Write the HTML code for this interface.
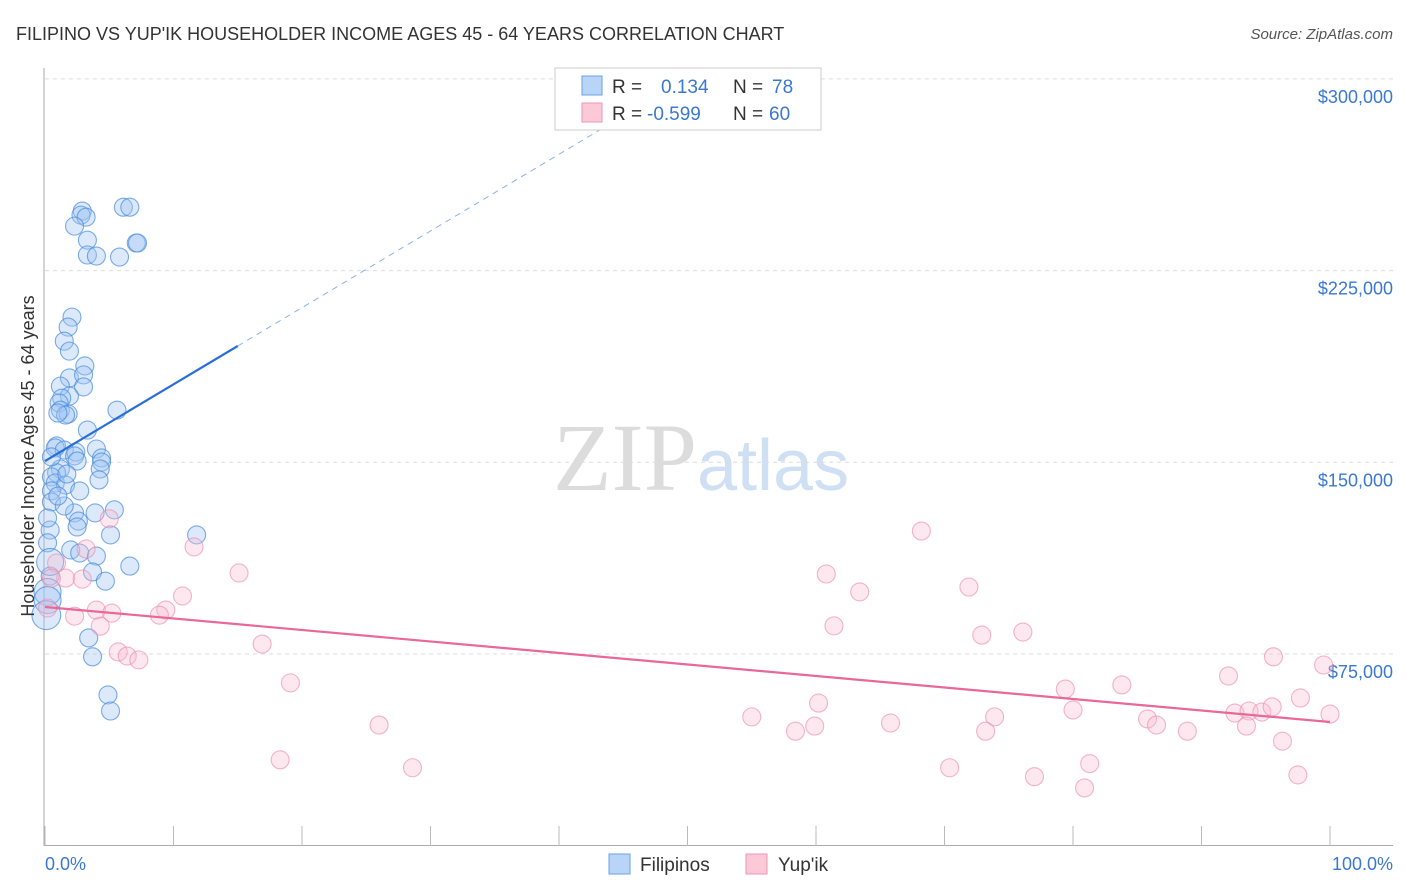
<!DOCTYPE html>
<html><head><meta charset="utf-8"><style>
body{margin:0;background:#fff;font-family:"Liberation Sans",sans-serif;}
svg{display:block}
</style></head><body>
<svg width="1406" height="892" id="chart">
<text x="16" y="40" font-size="18" fill="#333">FILIPINO VS YUP'IK HOUSEHOLDER INCOME AGES 45 - 64 YEARS CORRELATION CHART</text>
<text x="1393" y="39" font-size="15" fill="#555" text-anchor="end" font-style="italic">Source: ZipAtlas.com</text>
<text x="553" y="490" font-size="96" fill="#dcdcdc" font-family="Liberation Serif,serif">ZIP<tspan fill="#cfdff4" font-family="Liberation Sans,sans-serif" font-size="72">atlas</tspan></text>
<g id="grid"></g>
<g id="marks"></g>
<text transform="translate(34,456) rotate(-90)" font-size="18" fill="#333" text-anchor="middle">Householder Income Ages 45 - 64 years</text>
<text x="45" y="870" font-size="18" fill="#3a78d4">0.0%</text>
<text x="1393" y="870" font-size="18" fill="#3a78d4" text-anchor="end">100.0%</text>
<g>
<rect x="555" y="68" width="266" height="62" fill="#fff" stroke="#ccc"/>
<rect x="582" y="76" width="20" height="19" fill="#b8d4f6" stroke="#6aa2e4"/>
<rect x="582" y="103" width="20" height="19" fill="#fbc9d8" stroke="#ee95b3"/>
<text x="612" y="93" font-size="19" fill="#333">R = <tspan x="661" fill="#3a78d4">0.134</tspan><tspan x="733">N = </tspan><tspan x="772" fill="#3a78d4">78</tspan></text>
<text x="612" y="120" font-size="19" fill="#333">R = <tspan x="647" fill="#3a78d4">-0.599</tspan><tspan x="733">N = </tspan><tspan x="769" fill="#3a78d4">60</tspan></text>
</g>
<g>
<rect x="609" y="854" width="21" height="20" fill="#b8d4f6" stroke="#6aa2e4"/>
<text x="640" y="871" font-size="19" fill="#333">Filipinos</text>
<rect x="746" y="854" width="21" height="20" fill="#fbc9d8" stroke="#ee95b3"/>
<text x="778" y="871" font-size="19" fill="#333">Yup'ik</text>
</g>
</svg>
<script>
const yTicks=[75000,150000,225000,300000];
const yTickLabels=["$75,000","$150,000","$225,000","$300,000"];
const xTicks=[0,10,20,30,40,50,60,70,80,90,100];
const blueX=[2.9,2.8,3.2,6.1,6.6,2.3,3.3,7.1,7.2,3.3,4.0,5.8,2.1,1.8,1.5,1.9,3.1,1.9,3.0,1.2,3.0,1.9,1.3,1.1,1.2,1.8,1.6,5.6,1.0,3.3,0.9,0.8,1.5,2.4,4.0,2.3,4.4,4.4,2.5,4.3,1.2,0.9,4.2,0.5,0.8,1.6,2.7,0.5,0.5,3.9,5.4,2.3,2.6,2.5,0.4,5.1,0.2,11.8,2.0,2.7,4.0,3.7,4.7,6.6,0.4,0.2,3.4,3.7,4.9,5.1,0.4,0.2,0.1,1.5,1.0,0.2,1.7,0.5];
const blueY=[248.3,246.7,245.9,249.8,249.8,242.4,236.9,235.8,235.8,231.1,230.7,230.3,206.8,202.9,197.4,193.5,187.7,183.0,184.2,179.8,179.5,175.9,175.1,173.2,170.4,168.9,168.5,170.4,169.3,162.6,156.4,155.6,154.8,154.0,155.2,152.5,151.7,150.1,150.5,147.4,147.4,145.9,143.1,144.3,141.9,141.1,138.8,138.8,134.5,130.2,131.4,130.2,127.0,124.7,123.5,121.6,118.5,121.6,115.7,114.5,113.3,107.1,103.5,109.4,105.5,99.3,81.3,73.9,59.0,52.7,111.0,96.1,90.2,132.9,136.8,128.2,145.4,152.1];
const blueW=[1,1,1,1,1,1,1,1,1,1,1,1,1,1,1,1,1,1,1,1,1,1,1,1,1,1,1,1,1,1,1,1,1,1,1,1,1,1,1,1,1,1,1,1,1,1,1,1,1,1,1,1,1,1,1,1,1,1,1,1,1,1,1,1,1,1.5,1,1,1,1,1.5,1.5,1.6,1,1,1,1,1];
const pinkX=[5.0,11.6,0.9,3.2,1.6,2.9,15.1,10.7,9.4,8.9,2.3,4.0,5.2,4.3,16.9,5.7,6.4,7.3,19.1,0.2,68.2,60.8,71.9,63.4,61.4,72.9,76.1,95.6,99.5,92.1,97.7,79.4,83.8,60.2,80.0,55.0,73.9,65.8,85.8,86.5,92.6,93.7,94.7,95.5,100,26.0,58.4,59.9,73.2,88.9,93.5,96.3,18.3,28.6,70.4,77.0,81.3,80.9,97.5,0.5];
const pinkY=[127.9,116.9,110.6,116.1,104.7,104.3,106.7,97.7,92.2,90.2,89.8,92.2,91.0,85.9,78.9,75.8,74.2,72.7,63.7,93.0,123.1,106.3,101.2,99.3,86.0,82.4,83.6,73.9,70.7,66.4,57.8,61.3,62.9,55.8,53.1,50.4,50.4,48.0,49.6,47.2,51.9,52.7,52.3,54.3,51.5,47.2,44.8,46.8,44.8,44.8,46.8,40.9,33.6,30.5,30.5,27.0,32.1,22.6,27.7,104.7];
const blueTrend=[150.5,195.5]; // values at x=0 and x=15
const blueTrendExt=[0,15,45];
const pinkTrend=[93.4,48.4]; // values at x=0 and x=100

const NS="http://www.w3.org/2000/svg";
const X=p=>45+p*12.85;
const Y=v=>845.7-v/75000*191.7;
const Yk=v=>Y(v*1000);
const grid=document.getElementById('grid'),marks=document.getElementById('marks');
function mk(tag,attrs,parent){const e=document.createElementNS(NS,tag);for(const k in attrs)e.setAttribute(k,attrs[k]);parent.appendChild(e);return e;}
yTicks.forEach((t,i)=>{
 const l=mk('line',{x1:45,x2:1393,y1:Y(t),y2:Y(t),stroke:'#ddd','stroke-dasharray':'4,4'},grid);
 
 
 const tx=mk('text',{x:1393,y:Y(t)+24,'font-size':18,fill:'#3a78d4','text-anchor':'end'},grid);
 tx.textContent=yTickLabels[i];
 
 
});
mk('line',{x1:44,x2:44,y1:68,y2:846,stroke:'#aaa'},grid);
const xa=mk('line',{x1:44,x2:1393,y1:845.5,y2:845.5,stroke:'#aaa'},grid);


xTicks.forEach(t=>{
 const l=mk('line',{x1:X(t),x2:X(t),y1:826,y2:846,stroke:'#bbb'},grid);
 
 
});
blueX.forEach((x,i)=>{
 const c=mk('circle',{cx:X(x),cy:Yk(blueY[i]),r:9*blueW[i],fill:'rgba(160,198,242,0.38)',stroke:'rgba(70,138,222,0.7)','stroke-width':1.1},marks);
 
 
});
pinkX.forEach((x,i)=>{
 const c=mk('circle',{cx:X(x),cy:Yk(pinkY[i]),r:9,fill:'rgba(250,190,208,0.35)',stroke:'rgba(238,140,172,0.65)','stroke-width':1.1},marks);
 
 
});
const slope=(blueTrend[1]-blueTrend[0])/15;
const bv=x=>blueTrend[0]+slope*x;
const d=mk('line',{x1:X(blueTrendExt[1]),y1:Yk(bv(blueTrendExt[1])),x2:X(blueTrendExt[2]),y2:Yk(bv(blueTrendExt[2])),stroke:'#8ab2e6','stroke-width':1,'stroke-dasharray':'6,5'},marks);


const b=mk('line',{x1:X(0),y1:Yk(bv(0)),x2:X(15),y2:Yk(bv(15)),stroke:'#2a6fd6','stroke-width':2.2},marks);


const p=mk('line',{x1:X(0),y1:Yk(pinkTrend[0]),x2:X(100),y2:Yk(pinkTrend[1]),stroke:'#e8689a','stroke-width':2.2},marks);


</script>
</body></html>
